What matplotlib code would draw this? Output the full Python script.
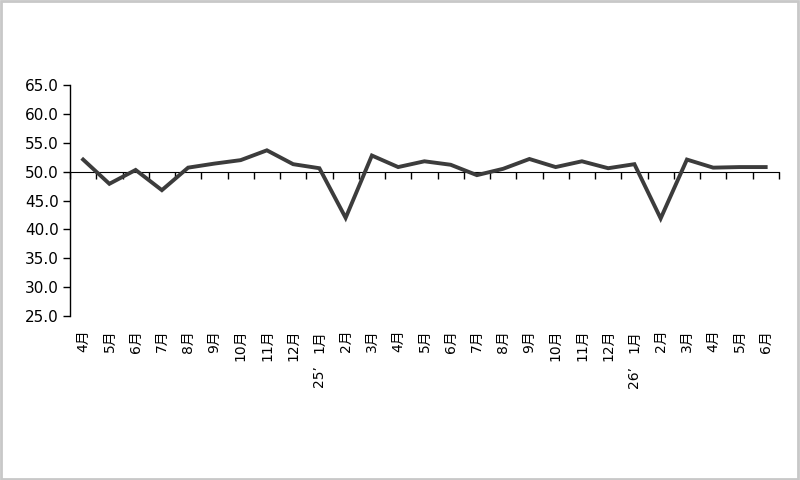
import matplotlib
matplotlib.use("Agg")
import matplotlib.pyplot as plt
import matplotlib.transforms as mtransforms
from matplotlib.patches import Rectangle
import numpy as np

plt.rcParams['font.family'] = ['DejaVu Sans', 'Noto Sans CJK SC']

# monthly index values, Apr 2024 - Jun 2026
months = ["4月", "5月", "6月", "7月", "8月", "9月", "10月", "11月", "12月",
          "1月", "2月", "3月", "4月", "5月", "6月", "7月", "8月", "9月",
          "10月", "11月", "12月", "1月", "2月", "3月", "4月", "5月", "6月"]
values = [52.1, 47.9, 50.3, 46.8, 50.7, 51.4, 52.0, 53.7, 51.3,
          50.6, 42.0, 52.8, 50.8, 51.8, 51.2, 49.4, 50.5, 52.2,
          50.8, 51.8, 50.6, 51.3, 41.9, 52.1, 50.7, 50.8, 50.8]
year_labels = {9: "25\u2019", 21: "26\u2019"}
y_ticks = [25, 30, 35, 40, 45, 50, 55, 60, 65]

fig = plt.figure(figsize=(8, 4.8), dpi=100)
ax = fig.add_axes([0.0875, 0.3417, 0.886, 0.481])

x = np.arange(len(months))
ax.plot(x, values, color="#3c3c3c", linewidth=2.8, solid_joinstyle="miter", zorder=3)

ax.set_xlim(-0.5, len(months) - 0.5)
ax.set_ylim(25, 65)
ax.set_yticks(y_ticks)
ax.set_yticklabels([f"{v:.1f}" for v in y_ticks], fontsize=11)
ax.tick_params(axis="y", direction="out", length=5, width=1, pad=3)

# category labels below the plot area
ax.set_xticks(x)
ax.set_xticklabels(months, rotation=90, fontsize=10)
ax.tick_params(axis="x", length=0, pad=10)

for sp in ["top", "right", "bottom"]:
    ax.spines[sp].set_visible(False)
ax.spines["left"].set_linewidth(1)

# horizontal axis line at 50 with ticks between categories
sec = ax.secondary_xaxis((50 - 25) / (65 - 25))
sec.set_xticks(np.arange(-0.5, len(months)))
sec.set_xticklabels([])
sec.tick_params(direction="in", length=5, width=1)
sec.spines["bottom"].set_linewidth(1)

trans = mtransforms.blended_transform_factory(ax.transData, ax.transAxes)
for i, lab in year_labels.items():
    ax.text(i, -0.215, lab, transform=trans, rotation=90, fontsize=10,
            ha="center", va="top")

fig.patches.append(Rectangle((0.001, 0.002), 0.997, 0.995, transform=fig.transFigure,
                             fill=False, edgecolor="#c8c8c8", linewidth=2))

fig.savefig("out.png", dpi=100)
